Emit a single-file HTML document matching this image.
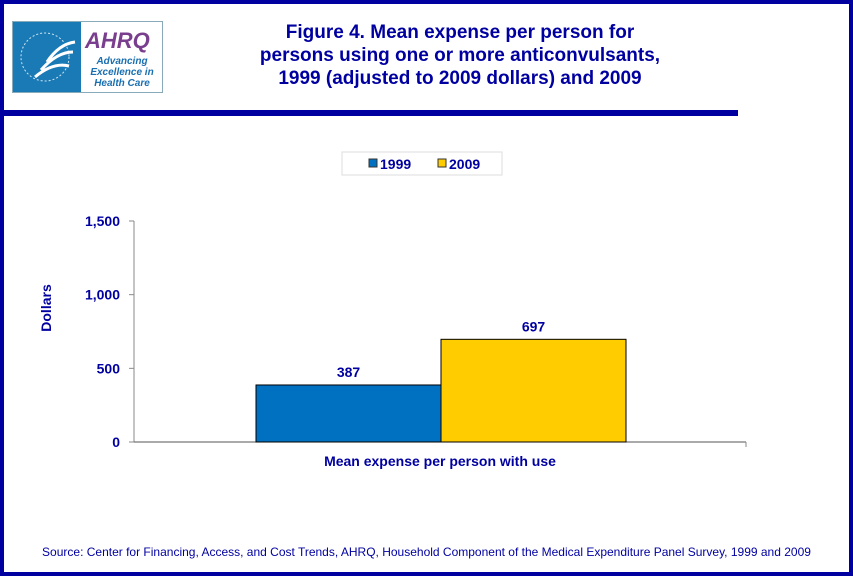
<!DOCTYPE html>
<html><head><meta charset="utf-8"><style>
body{margin:0;width:853px;height:576px;overflow:hidden;background:#fff;font-family:"Liberation Sans",Arial,sans-serif}
.frame{position:absolute;left:0;top:0;width:845px;height:568px;border:4px solid #0000a0;background:#fff}
</style></head><body>
<div class="frame"></div>
<div style="position:absolute;left:0;top:110px;width:738px;height:6px;background:#0000a0"></div>
<div style="position:absolute;left:12px;top:21px;width:149px;height:70px;border:1px solid #8ab;background:#fff">
  <div style="position:absolute;left:0;top:0;width:68px;height:70px;background:#1a7ab5"><svg width="68" height="70"><circle cx="32" cy="35" r="24" fill="none" stroke="#cfe6f3" stroke-width="1" stroke-dasharray="2 2"/><path d="M22 55 Q40 40 56 44 M28 48 Q44 30 60 30 M34 40 Q46 22 62 20" stroke="#fff" stroke-width="3" fill="none"/></svg></div>
  <div style="position:absolute;left:72px;top:6px;color:#7a3e8e;font:italic bold 22px 'Liberation Sans',sans-serif">AHRQ</div>
  <div style="position:absolute;left:70px;top:34px;width:78px;text-align:center;color:#1a6fb0;font:italic bold 10px/11px 'Liberation Sans',sans-serif">Advancing Excellence in Health Care</div>
</div>
<div style="position:absolute;left:190px;top:21px;width:540px;text-align:center;color:#0000a0;font-weight:bold;font-size:19px;line-height:23px">Figure 4. Mean expense per person for<br>persons using one or more anticonvulsants,<br>1999 (adjusted to 2009 dollars) and 2009</div>
<svg width="853" height="576" style="position:absolute;left:0;top:0" id="chart">
<g>
<rect x="342" y="152" width="160" height="23" fill="#fff" stroke="#ddd"/>
<rect x="369" y="159" width="8" height="8" fill="#0070c0" stroke="#333"/>
<text x="380" y="169" font-size="14" font-weight="bold" fill="#0000a0">1999</text>
<rect x="438" y="159" width="8" height="8" fill="#ffcc00" stroke="#333"/>
<text x="449" y="169" font-size="14" font-weight="bold" fill="#0000a0">2009</text>
</g>
<text transform="translate(51,308) rotate(-90)" text-anchor="middle" font-size="14" font-weight="bold" fill="#0000a0">Dollars</text>
<g id="axes"></g>
<text x="440" y="466" text-anchor="middle" font-size="14" font-weight="bold" fill="#0000a0">Mean expense per person with use</text>
</svg>
<div style="position:absolute;left:0;width:853px;top:545px;text-align:center;color:#0000a0;font-size:12px">Source: Center for Financing, Access, and Cost Trends, AHRQ, Household Component of the Medical Expenditure Panel Survey, 1999 and 2009</div>
<script>
const series=["1999","2009"];
const values=[387,697];
const colors=["#0070c0","#ffcc00"];
const ticks=[0,500,1000,1500];
const tickLabels=["0","500","1,000","1,500"];
const NS="http://www.w3.org/2000/svg";
const g=document.getElementById('axes');
const x0=134,x1=746,yb=442,yt=221,ymax=1500;
const y=v=>yb-(v/ymax)*(yb-yt);
function el(t,a){const e=document.createElementNS(NS,t);for(const k in a)e.setAttribute(k,a[k]);g.appendChild(e);return e;}
let ax=el('line',{x1:x0,y1:yt,x2:x0,y2:yb,stroke:'#888'});


let bx=el('line',{x1:x0-5,y1:yb,x2:x1,y2:yb,stroke:'#555'});


ticks.forEach((t,i)=>{
 let l=el('line',{x1:x0-5,y1:y(t),x2:x0,y2:y(t),stroke:'#888'});
 
 
 let tx=el('text',{x:x0-14,y:y(t)+5,'text-anchor':'end','font-size':14,'font-weight':'bold',fill:'#0000a0'});
 tx.textContent=tickLabels[i];
 
 
});
el('line',{x1:x1,y1:yb,x2:x1,y2:yb+5,stroke:'#888'});
const bw=185,bstart=256;
values.forEach((v,i)=>{
 const bxp=bstart+i*bw;
 let r=el('rect',{x:bxp,y:y(v),width:bw,height:yb-y(v),fill:colors[i],stroke:'#000'});
 
 
 let t=el('text',{x:bxp+bw/2,y:y(v)-8,'text-anchor':'middle','font-size':14,'font-weight':'bold',fill:'#0000a0'});
 t.textContent=v;
 
 
});
</script>
</body></html>
